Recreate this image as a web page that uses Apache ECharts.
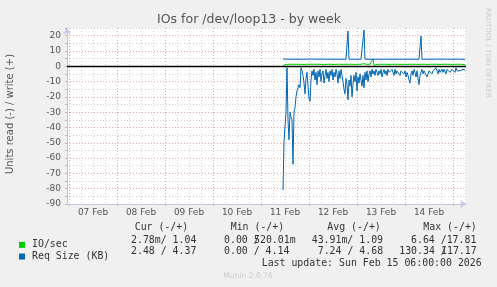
<!DOCTYPE html>
<html><head><meta charset="utf-8">
<script src="https://cdn.jsdelivr.net/npm/echarts@6/dist/echarts.min.js"></script>
<style>html,body{margin:0;padding:0;background:#f0f0f0;}#c{width:497px;height:287px;}</style>
</head><body><div id="c"></div>
<script>
// x-axis tick labels (drawn at noon of each day)
const dayLabels = ['07 Feb','08 Feb','09 Feb','10 Feb','11 Feb','12 Feb','13 Feb','14 Feb'];
// 30-minute slots from Feb 06 23:00 to Feb 15 06:30
const slotCount = 400;
const firstDataSlot = 216; // Feb 11 11:00

// IO/sec, write (+)
const ioWrite = [
0.4,1.2,1.3,1.2,1.3,1.2,1.3,1.3,1.2,1.3,
1.3,1.2,1.3,1.3,1.2,1.3,1.3,1.3,1.2,1.3,
1.3,1.2,1.3,1.3,1.3,1.2,1.3,1.3,1.8,2.6,
1.3,1.2,1.3,1.3,1.3,1.2,1.3,1.3,1.3,1.2,
1.3,1.3,1.2,1.3,1.7,1.3,1.3,1.2,1.3,1.3,
1.3,1.2,1.3,1.3,1.3,1.3,1.2,1.3,1.3,1.3,
1.2,1.3,1.3,1.3,1.2,1.6,1.3,1.3,1.2,1.3,
1.3,1.3,1.2,1.3,1.3,1.3,1.2,1.3,1.3,1.3,
1.2,1.7,1.3,1.3,1.2,1.3,1.3,1.3,1.2,2.5,
4.8,0.6,1.3,1.3,1.2,1.3,1.3,1.3,1.2,1.3,
1.3,1.3,1.2,1.3,1.3,1.3,1.2,1.3,1.3,1.3,
1.2,1.3,1.3,1.3,1.2,1.3,1.3,1.3,1.2,1.3,
1.8,1.3,2.1,1.3,1.2,1.9,1.3,1.3,1.2,2.0,
1.3,1.3,1.2,1.3,1.3,1.3,1.2,1.3,1.6,1.3,
1.3,1.2,1.3,1.3,1.3,1.2,1.3,1.3,1.3,1.2,
1.3,1.3,1.3,1.2,1.3,1.3,1.3,1.2,1.3,1.3,
1.3,1.2,1.3,1.3,1.3,1.2,1.3,1.3,1.3,1.2,
1.3,1.3,1.3,1.2,1.3,1.3,1.3,1.2,1.3,1.3,
1.2,1.1,1.04];

// Req Size (KB), read (-)
const reqRead = [
-81,-49,-49,-30,-1,-35,-48,-30,-33,-35,
-64,-30,-27,-20,-16,-15,-12,-14,-1,-3,
-6,-11,-18,-8,-4,-13,-21,-23,-9,-3,
-6,-2,-9,-4,-12,-3,-7,-2,-10,-5,
-3,-11,-6,-2,-8,-4,-10,-3,-6,-2,
-9,-4,-7,-2,-5,-11,-3,-8,-2,-6,
-10,-15,-18,-8,-12,-22,-9,-13,-6,-20,
-12,-6,-10,-4,-16,-7,-11,-5,-9,-13,
-6,-14,-4,-9,-3,-10,-5,-3,-7,-2,
-5,-3,-6,-2,-4,-6,-3,-5,-2,-7,
-4,-2,-5,-3,-6,-2,-4,-3,-5,-2,
-3,-6,-2,-5,-3,-4,-2,-6,-3,-4,
-2,-5,-3,-7,-4,-6,-9,-11,-5,-3,
-6,-2,-4,-7,-3,-8,-12,-6,-4,-2,
-5,-3,-4,-2,-7,-5,-3,-4,-2,-5,
-3,-2,-4,-1,-3,-5,-2,-4,-3,-2,
-4,-2,-3,-5,-2,-3,-1,-4,-3,-2,
-3,-2,-4,-1,-3,-2,-4,-3,-2,-3,
-2,-3,-2.48];

// Req Size (KB), write (+)
const reqWrite = [
4.7,4.6,4.6,4.7,4.6,4.6,4.6,4.7,4.6,4.6,
4.6,4.7,4.6,4.6,4.6,4.6,4.7,4.6,4.6,4.6,
4.6,4.6,4.7,4.6,4.6,4.6,4.6,4.7,4.6,5.6,
4.7,4.6,4.6,4.6,4.7,4.6,4.6,4.6,4.6,4.7,
4.6,4.6,4.6,4.6,4.7,4.6,4.6,4.6,4.6,4.6,
4.7,4.6,4.6,4.6,4.6,4.7,4.6,4.6,4.6,4.6,
4.6,4.7,4.6,4.6,4.6,23.0,4.6,4.6,4.7,4.6,
4.6,4.6,4.6,4.6,4.7,4.6,4.6,4.6,4.6,4.6,
4.7,23.7,4.6,4.6,4.6,4.6,4.7,4.6,4.6,4.6,
4.6,4.6,4.6,4.7,4.6,4.6,4.6,4.6,4.6,4.7,
4.6,4.6,4.6,4.6,4.6,4.7,4.6,4.6,4.6,4.6,
4.6,4.7,4.6,4.6,4.6,4.6,4.6,4.7,4.6,4.6,
4.6,4.6,4.6,4.7,4.6,4.6,4.6,4.6,4.6,4.7,
4.6,4.6,4.6,4.6,4.6,4.6,4.6,4.6,19.8,4.6,
4.6,4.7,4.6,4.6,4.6,4.6,4.6,4.7,4.6,4.6,
4.6,4.6,4.6,4.6,4.7,4.6,4.6,4.6,4.6,4.6,
4.7,4.6,4.6,4.6,4.6,4.6,4.6,4.7,4.6,4.6,
4.6,4.6,4.6,4.6,4.6,4.7,4.6,4.6,4.6,4.6,
4.6,4.5,4.37];

const startMs = Date.UTC(2026, 1, 6, 23, 0);
const categories = [];
for (let i = 0; i < slotCount; i++) {
  const d = new Date(startMs + i * 1800000);
  categories.push(d.toISOString().slice(5, 16));
}
const pad = arr => new Array(firstDataSlot).fill(null).concat(arr);

const mono = 'DejaVu Sans Mono';
const sans = 'DejaVu Sans';
const txtColor = '#333';
const RED = '#e8a4a4', GRAY = '#d2d2d2', AXIS = '#c4c4ee';

function t(x, y, text, extra) {
  return Object.assign({type:'text', x:x, y:y, silent:true,
    style:Object.assign({text:text, fill:txtColor, font:'9.9px "' + mono + '"', textAlign:'left', textVerticalAlign:'middle'}, extra || {})});
}

const chart = echarts.init(document.getElementById('c'), null, {renderer:'canvas', width:497, height:287});
chart.setOption({
  animation:false,
  backgroundColor:'#f0f0f0',
  grid:{left:67, top:28, width:399, height:176, show:true, backgroundColor:'#ffffff', borderWidth:0},
  legend:{
    orient:'vertical', left:14, top:234, itemWidth:6, itemHeight:6, itemGap:0, icon:'rect',
    selectedMode:false,
    data:['IO/sec','Req Size (KB)'],
    textStyle:{fontFamily:mono, fontSize:9.9, color:txtColor, lineHeight:11.7, padding:[0,0,0,2]}
  },
  xAxis:{
    type:'category', data:categories, boundaryGap:false,
    axisLine:{show:true, onZero:false, symbol:['none','arrow'], symbolSize:[6,6], lineStyle:{color:AXIS, width:1}},
    axisTick:{show:true, length:2, interval:(i)=> i>=2 && (i-2)%48===0, lineStyle:{color:RED}},
    axisLabel:{show:true, interval:(i)=> i>=26 && (i-26)%48===0, margin:4,
      formatter:(v, i)=> dayLabels[(i-26)/48] || '', color:'#555', fontFamily:sans, fontSize:9},
    splitLine:{show:true, interval:(i)=> i>=2 && (i-2)%12===0,
      lineStyle:{color:[RED, GRAY, GRAY, GRAY], type:[1,2], width:1}}
  },
  yAxis:{
    type:'value', min:-90, max:25, interval:5,
    axisLine:{show:true, onZero:false, symbol:['none','arrow'], symbolSize:[6,6], lineStyle:{color:AXIS, width:1}},
    axisTick:{show:true, length:2, lineStyle:{color:RED}},
    axisLabel:{margin:6, color:'#555', fontFamily:sans, fontSize:9,
      formatter:(v)=> (v % 10 === 0) ? String(v) : ''},
    splitLine:{show:true, lineStyle:{color:[RED, GRAY], type:[1,2], width:1}}
  },
  series:[
    {type:'line', name:'IO/sec', data:pad(ioWrite), color:'#00cc00', symbol:'none',
      lineStyle:{width:1, color:'#00cc00'}, z:2},
    {type:'line', name:'Req Size (KB)', data:pad(reqRead), color:'#0066b3', symbol:'none',
      lineStyle:{width:1, color:'#0066b3'}, z:3,
      markLine:{silent:true, symbol:'none', label:{show:false}, animation:false,
        lineStyle:{color:'#000', width:1.3, type:'solid'}, data:[{yAxis:0}]}},
    {type:'line', name:'Req Size (KB)', data:pad(reqWrite), color:'#0066b3', symbol:'none',
      lineStyle:{width:1, color:'#0066b3'}, z:3}
  ],
  graphic:[
    {type:'text', x:249, y:19.5, silent:true, style:{text:'IOs for /dev/loop13 - by week', fill:'#555', font:'12.5px "' + sans + '"', textAlign:'center', textVerticalAlign:'middle'}},
    {type:'text', x:10, y:114, rotation:Math.PI/2, silent:true, style:{text:'Units read (-) / write (+)', fill:'#555', font:'10px "' + sans + '"', textAlign:'center', textVerticalAlign:'middle'}},
    {type:'text', x:488, y:53, rotation:-Math.PI/2, silent:true, style:{text:'RRDTOOL / TOBI OETIKER', fill:'#cccccc', font:'7px "' + sans + '"', textAlign:'center', textVerticalAlign:'middle'}},
    t(134.7, 227.3, 'Cur (-/+)'),
    t(230.7, 227.3, 'Min (-/+)'),
    t(327.3, 227.3, 'Avg (-/+)'),
    t(423.3, 227.3, 'Max (-/+)'),
    t(131, 240, '2.78m/ 1.04'),
    t(224, 240, '0.00 /'),
    t(254, 240, '520.01m'),
    t(311.7, 240, '43.91m/ 1.09'),
    t(411, 240, '6.64 /17.81'),
    t(131, 251.7, '2.48 / 4.37'),
    t(224, 251.7, '0.00 / 4.14'),
    t(317.7, 251.7, '7.24 / 4.68'),
    t(399.2, 251.7, '130.34 /'),
    t(441, 251.7, '117.17'),
    t(261.7, 263.3, 'Last update: Sun Feb 15 06:00:00 2026'),
    {type:'text', x:248, y:276, silent:true, style:{text:'Munin 2.0.76', fill:'#cccccc', font:'7.6px "' + sans + '"', textAlign:'center', textVerticalAlign:'middle'}}
  ]
});
</script></body></html>
